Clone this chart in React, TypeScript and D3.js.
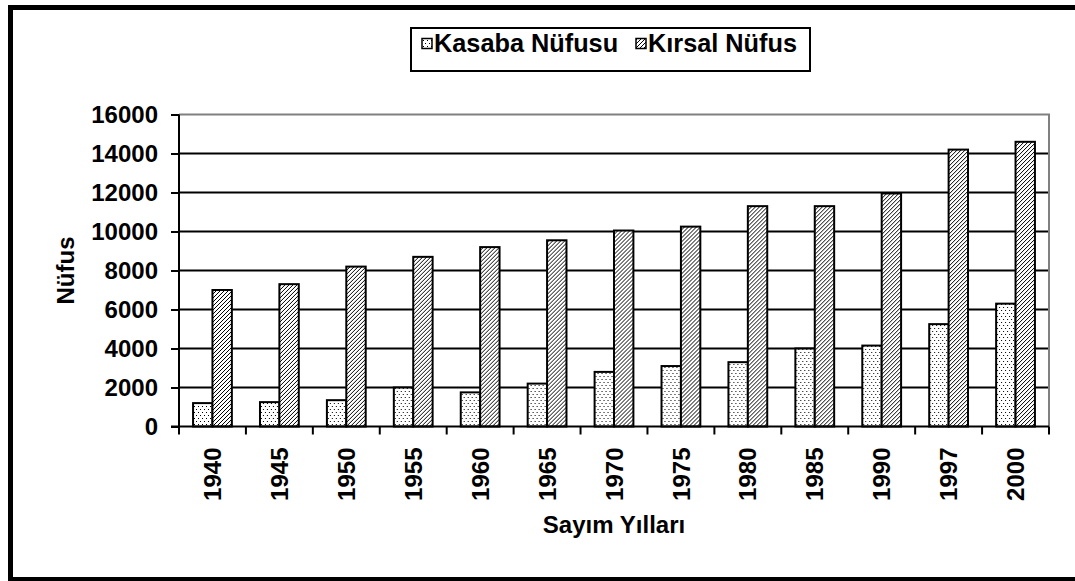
import React, { useRef, useEffect } from "react";
import * as d3 from "d3";

const years = ["1940", "1945", "1950", "1955", "1960", "1965", "1970", "1975", "1980", "1985", "1990", "1997", "2000"];
const kasaba = [1200, 1250, 1350, 2000, 1750, 2200, 2800, 3100, 3300, 4000, 4150, 5250, 6300];
const kirsal = [7000, 7300, 8200, 8700, 9200, 9550, 10050, 10250, 11300, 11300, 11950, 14200, 14600];
const yTicks = [0, 2000, 4000, 6000, 8000, 10000, 12000, 14000, 16000];
const seriesNames = ["Kasaba Nüfusu", "Kırsal Nüfus"];

const FONT = "'Liberation Sans', Arial, sans-serif";

function App() {
    const svgRef = useRef<SVGSVGElement>(null);

    useEffect(() => {
        const svg = d3.select(svgRef.current);
        svg.selectAll("*").remove();
        const width = 1075;
        const height = 581;
        const plot = { left: 179, right: 1049, top: 114.5, bottom: 426.5 };

        svg.attr("width", width).attr("height", height);

        // fill patterns
        const defs = svg.append("defs");
        const dots = defs.append("pattern")
            .attr("id", "dots")
            .attr("patternUnits", "userSpaceOnUse")
            .attr("width", 4)
            .attr("height", 6);
        dots.append("rect").attr("width", 4).attr("height", 6).attr("fill", "#fff");
        dots.append("rect").attr("x", 1).attr("y", 1).attr("width", 1).attr("height", 1).attr("fill", "#000");
        dots.append("rect").attr("x", 3).attr("y", 4).attr("width", 1).attr("height", 1).attr("fill", "#000");

        const hatch = defs.append("pattern")
            .attr("id", "hatch")
            .attr("patternUnits", "userSpaceOnUse")
            .attr("width", 4)
            .attr("height", 4);
        hatch.append("rect").attr("width", 4).attr("height", 4).attr("fill", "#fff");
        [[3, 0], [2, 1], [1, 2], [0, 3]].forEach(([px, py]) => {
            hatch.append("rect")
                .attr("x", px).attr("y", py)
                .attr("width", 1).attr("height", 1)
                .attr("fill", "#000")
                .attr("shape-rendering", "crispEdges");
        });

        const fills = ["url(#dots)", "url(#hatch)"];

        // outer frame
        svg.append("rect")
            .attr("x", 10.5)
            .attr("y", 7.5)
            .attr("width", 1100)
            .attr("height", 572)
            .attr("fill", "#fff")
            .attr("stroke", "#000")
            .attr("stroke-width", 5);

        const x0 = d3.scaleBand().domain(years).range([plot.left, plot.right]).padding(0);
        const x1 = d3.scaleBand().domain(["k", "r"]).range([0, x0.bandwidth()]).paddingInner(0).paddingOuter(0.725);
        const y = d3.scaleLinear().domain([0, 16000]).range([plot.bottom, plot.top]);

        // gridlines
        svg.append("g")
            .selectAll("line")
            .data(yTicks.filter((t) => t > 0 && t < 16000))
            .enter()
            .append("line")
            .attr("x1", plot.left)
            .attr("x2", plot.right)
            .attr("y1", (d) => y(d))
            .attr("y2", (d) => y(d))
            .attr("stroke", "#000")
            .attr("stroke-width", 2);

        // plot border (top and right)
        svg.append("path")
            .attr("d", `M${plot.left},${plot.top}H${plot.right}V${plot.bottom}`)
            .attr("fill", "none")
            .attr("stroke", "#808080")
            .attr("stroke-width", 2);

        // bars
        const groups = svg.append("g")
            .selectAll("g")
            .data(years)
            .enter()
            .append("g")
            .attr("transform", (d) => `translate(${x0(d)},0)`);

        groups.selectAll("rect")
            .data((_, i) => [
                { key: "k", value: kasaba[i], fill: fills[0] },
                { key: "r", value: kirsal[i], fill: fills[1] },
            ])
            .enter()
            .append("rect")
            .attr("x", (d) => x1(d.key) as number)
            .attr("width", x1.bandwidth())
            .attr("y", (d) => y(d.value))
            .attr("height", (d) => y(0) - y(d.value))
            .attr("fill", (d) => d.fill)
            .attr("stroke", "#000")
            .attr("stroke-width", 2);

        // y axis
        const yAxis = svg.append("g")
            .attr("transform", `translate(${plot.left},0)`)
            .call(d3.axisLeft(y).tickValues(yTicks).tickSize(8).tickPadding(13).tickFormat(d3.format("d")));
        yAxis.select(".domain").remove();
        yAxis.selectAll(".tick line").attr("stroke", "#000").attr("stroke-width", 2);
        yAxis.selectAll(".tick text")
            .attr("fill", "#000")
            .style("font-family", FONT)
            .style("font-weight", "bold")
            .style("font-size", "24px");

        svg.append("line")
            .attr("x1", plot.left).attr("x2", plot.left)
            .attr("y1", plot.top).attr("y2", plot.bottom + 7)
            .attr("stroke", "#000").attr("stroke-width", 2);
        svg.append("line")
            .attr("x1", plot.left - 8).attr("x2", plot.right)
            .attr("y1", plot.bottom).attr("y2", plot.bottom)
            .attr("stroke", "#000").attr("stroke-width", 2);

        // x ticks
        const xTickPos = years.map((d) => x0(d) as number).concat([plot.right]);
        svg.append("g")
            .selectAll("line")
            .data(xTickPos)
            .enter()
            .append("line")
            .attr("x1", (d) => d).attr("x2", (d) => d)
            .attr("y1", plot.bottom).attr("y2", plot.bottom + 8)
            .attr("stroke", "#000").attr("stroke-width", 2);

        svg.append("g")
            .selectAll("text")
            .data(years)
            .enter()
            .append("text")
            .attr("transform", (d) => `translate(${(x0(d) as number) + x0.bandwidth() / 2},${plot.bottom + 21}) rotate(-90)`)
            .attr("text-anchor", "end")
            .attr("dy", "0.36em")
            .style("font-family", FONT)
            .style("font-weight", "bold")
            .style("font-size", "24px")
            .text((d) => d);

        // axis titles
        svg.append("text")
            .attr("x", (plot.left + plot.right) / 2)
            .attr("y", 533)
            .attr("text-anchor", "middle")
            .style("font-family", FONT)
            .style("font-weight", "bold")
            .style("font-size", "24px")
            .text("Sayım Yılları");

        svg.append("text")
            .attr("transform", `translate(74,${(plot.top + plot.bottom) / 2}) rotate(-90)`)
            .attr("text-anchor", "middle")
            .style("font-family", FONT)
            .style("font-weight", "bold")
            .style("font-size", "24px")
            .text("Nüfus");

        // legend
        const legend = svg.append("g");
        legend.append("rect")
            .attr("x", 411)
            .attr("y", 28)
            .attr("width", 399)
            .attr("height", 43)
            .attr("fill", "#fff")
            .attr("stroke", "#000")
            .attr("stroke-width", 2);
        const legendX = [422, 636];
        seriesNames.forEach((name, i) => {
            legend.append("rect")
                .attr("x", legendX[i])
                .attr("y", 38.5)
                .attr("width", 10)
                .attr("height", 10)
                .attr("fill", fills[i])
                .attr("stroke", "#000")
                .attr("stroke-width", 1.5);
            legend.append("text")
                .attr("x", legendX[i] + 12)
                .attr("y", 52)
                .style("font-family", FONT)
                .style("font-weight", "bold")
                .style("font-size", "25.3px")
                .text(name);
        });
    }, []);

    return (
        <svg ref={svgRef} style={{ position: "absolute", left: 0, top: 0, display: "block" }}></svg>
    );
}

export default App;
